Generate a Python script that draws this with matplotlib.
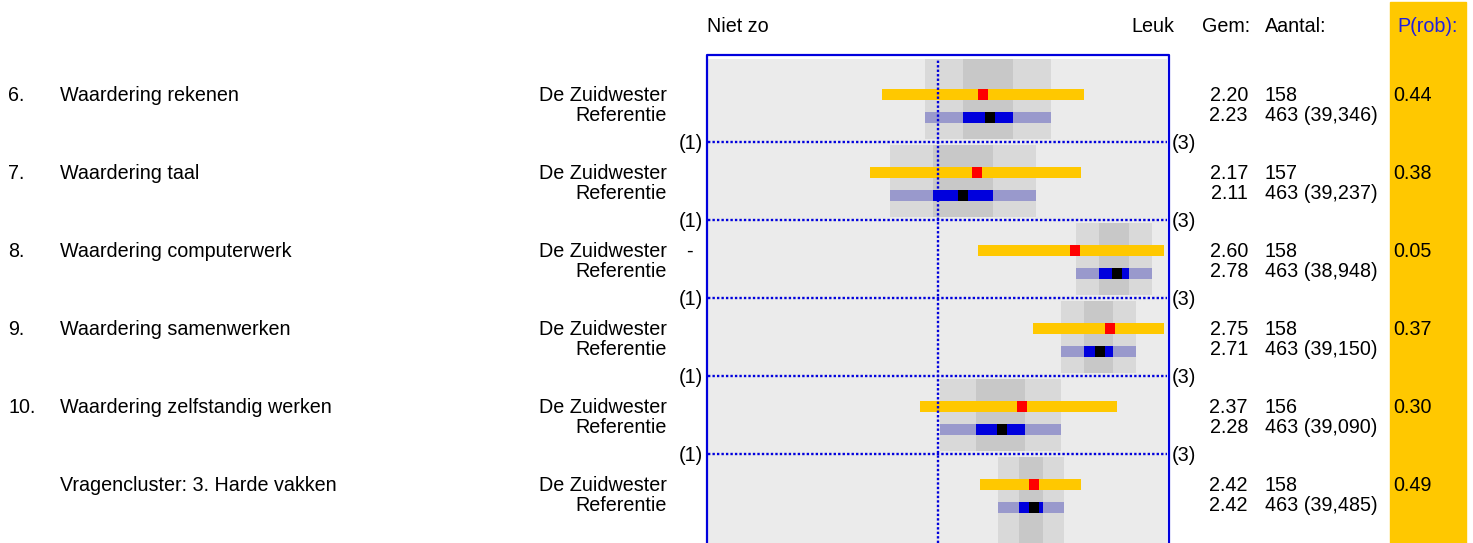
import matplotlib.pyplot as plt
from matplotlib.lines import Line2D
from matplotlib.patches import Rectangle
from matplotlib.transforms import blended_transform_factory

plt.rcParams['font.family'] = ['Liberation Sans', 'DejaVu Sans']

# vragen
nummers = ['6.', '7.', '8.', '9.', '10.', '']
vragen = ['Waardering rekenen', 'Waardering taal', 'Waardering computerwerk',
          'Waardering samenwerken', 'Waardering zelfstandig werken',
          'Vragencluster: 3. Harde vakken']

# De Zuidwester (gele balk + rood gemiddelde)
zw_laag = [1.758, 1.706, 2.176, 2.416, 1.924, 2.185]
zw_hoog = [2.638, 2.625, 2.987, 2.987, 2.782, 2.625]
zw_gem = [2.20, 2.17, 2.60, 2.75, 2.37, 2.42]
zw_n = ['158', '157', '158', '158', '156', '158']
teken = ['', '', '-', '', '', '']

# Referentie (percentielen + zwart gemiddelde)
ref_p10 = [1.946, 1.793, 2.603, 2.538, 2.011, 2.264]
ref_p25 = [2.111, 1.980, 2.704, 2.638, 2.168, 2.355]
ref_p75 = [2.329, 2.242, 2.834, 2.765, 2.381, 2.460]
ref_p90 = [2.495, 2.429, 2.935, 2.865, 2.538, 2.551]
ref_gem = [2.23, 2.11, 2.78, 2.71, 2.28, 2.42]
ref_n = ['463 (39,346)', '463 (39,237)', '463 (38,948)', '463 (39,150)',
         '463 (39,090)', '463 (39,485)']

p_rob = ['0.44', '0.38', '0.05', '0.37', '0.30', '0.49']

W, H = 1473, 543
BLAUW = '#0000dd'
GEEL = '#ffc800'
FS = 14.2
STIP = (0, (1, 0.9))

fig = plt.figure(figsize=(W / 100, H / 100), dpi=100)
ax = fig.add_axes([708 / W, 0, 459 / W, (H - 59) / H])
ax.set_xlim(1, 3)
ax.set_ylim(5.75, -0.455)
ax.set_facecolor('#ebebeb')
ax.set_xticks([])
ax.set_yticks([])
for s in ax.spines.values():
    s.set_visible(False)

bar_h = 0.141
mw = 0.0436
n = len(vragen)
for k in range(n):
    sep = k + 0.609
    top = -0.455 if k == 0 else (k - 1) + 0.609 + 0.035
    bot = 5.75 if k == n - 1 else sep - 0.035
    yc, hh = (top + bot) / 2, bot - top
    # achtergrondbanden
    ax.barh(yc, ref_p90[k] - ref_p10[k], height=hh, left=ref_p10[k], color='#d9d9d9')
    ax.barh(yc, ref_p75[k] - ref_p25[k], height=hh, left=ref_p25[k], color='#c8c8c8')
    # De Zuidwester
    ax.barh(k, zw_hoog[k] - zw_laag[k], height=bar_h, left=zw_laag[k], color=GEEL)
    ax.barh(k, mw, height=bar_h, left=zw_gem[k] - mw / 2, color='#ff0000')
    # Referentie
    yr = k + 0.295
    ax.barh(yr, ref_p90[k] - ref_p10[k], height=bar_h, left=ref_p10[k], color='#9999cc')
    ax.barh(yr, ref_p75[k] - ref_p25[k], height=bar_h, left=ref_p25[k], color=BLAUW)
    ax.barh(yr, mw, height=bar_h, left=ref_gem[k] - mw / 2, color='black')
    if k < n - 1:
        ax.axhline(sep, color=BLAUW, lw=1.7, linestyle=STIP)

ax.axvline(2, color=BLAUW, lw=1.7, linestyle=STIP)

# kader
fig.add_artist(Line2D([706.5 / W, 706.5 / W, 1169 / W, 1169 / W],
                      [0, 1 - 54.5 / H, 1 - 54.5 / H, 0],
                      transform=fig.transFigure, color=BLAUW, lw=1.6))
# gele kolom P(rob)
fig.add_artist(Rectangle((1390 / W, 0), 76 / W, 1 - 2 / H, transform=fig.transFigure,
                         color=GEEL, zorder=0))

# koppen
ky = 1 - 32.5 / H
fig.text(707 / W, ky, 'Niet zo', fontsize=FS, va='baseline')
fig.text(1174 / W, ky, 'Leuk', fontsize=FS, va='baseline', ha='right')
fig.text(1202 / W, ky, 'Gem:', fontsize=FS, va='baseline')
fig.text(1265 / W, ky, 'Aantal:', fontsize=FS, va='baseline')
fig.text(1397 / W, ky, 'P(rob):', fontsize=FS, va='baseline', color='#2020dd')

tr = blended_transform_factory(fig.transFigure, ax.transData)


def tekst(x, y, s, ha='left', **kw):
    ax.text(x / W, y, s, transform=tr, fontsize=FS, va='baseline', ha=ha,
            clip_on=False, **kw)


for k in range(n):
    yz = k + 0.083
    yr = k + 0.340
    tekst(8, yz, nummers[k])
    tekst(60, yz, vragen[k])
    tekst(667, yz, 'De Zuidwester', ha='right')
    tekst(667, yr, 'Referentie', ha='right')
    if teken[k]:
        tekst(689, yz, teken[k], ha='center')
    tekst(1248, yz, f'{zw_gem[k]:.2f}', ha='right')
    tekst(1248, yr, f'{ref_gem[k]:.2f}', ha='right')
    tekst(1265, yz, zw_n[k])
    tekst(1265, yr, ref_n[k])
    tekst(1393, yz, p_rob[k])
    if k < n - 1:
        sep = k + 0.609
        tekst(703, sep + 0.09, '(1)', ha='right')
        tekst(1172, sep + 0.09, '(3)')

fig.savefig('out.png', dpi=100)
